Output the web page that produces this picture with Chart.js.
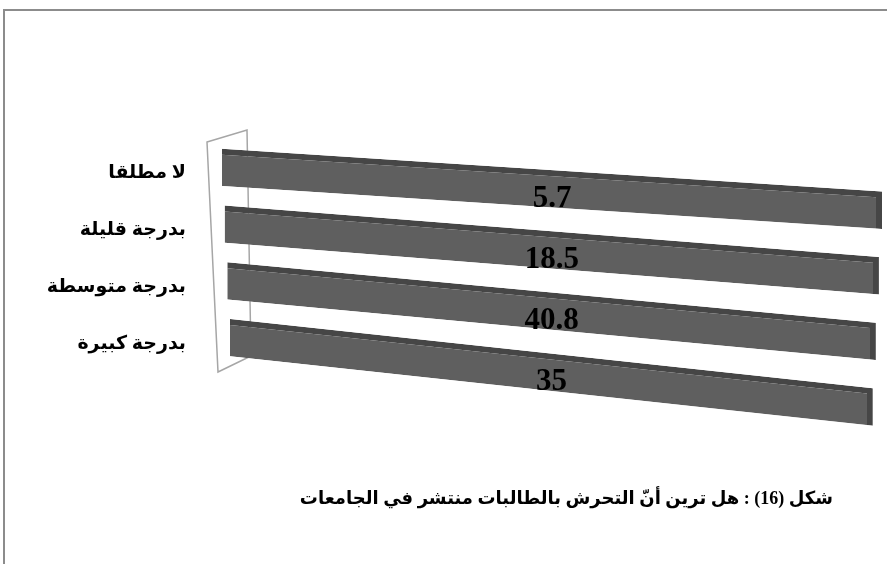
<!DOCTYPE html>
<html>
<head>
<meta charset="utf-8">
<script src="https://cdn.jsdelivr.net/npm/chart.js@4"></script>
<style>
  body { margin: 0; background: #fff; }
  #wrap { position: relative; width: 887px; height: 564px; overflow: hidden; }
  #frame { position: absolute; left: 3px; top: 9px; right: -4px; bottom: -4px;
           border-top: 2px solid #8c8c8c; border-left: 2px solid #8c8c8c; }
  canvas { position: absolute; left: 0; top: 0; }
</style>
</head>
<body>
<div id="wrap">
  <div id="frame"></div>
  <canvas id="chart" width="887" height="564" dir="rtl"></canvas>
</div>
<script>
// categories, top to bottom
const categories = ['لا مطلقا', 'بدرجة قليلة', 'بدرجة متوسطة', 'بدرجة كبيرة'];
// labelled values (%)
const percentValues = [5.7, 18.5, 40.8, 35];
const titleText = 'شكل (16) : هل ترين أنّ التحرش بالطالبات منتشر في الجامعات';

// the source is a 100% stacked bar with one series, so every bar fills the axis
const barShare = percentValues.map(v => (v / v) * 100);

const labelFont = '"Liberation Serif", "DejaVu Serif", serif';
// latin digits in serif, arabic falls back to DejaVu Sans
const arabicFont = '"Liberation Serif", "DejaVu Sans", sans-serif';

// per bar 3d look: slope, lean of the back wall and shortening
function barTransform(i, n) {
    const t = n > 1 ? i / (n - 1) : 0;
    return { slope: 0.065 + 0.04 * t, shiftX: 8 * t, squeeze: 1 - 0.026 * t };
}

const perspective = {
    id: 'perspective',
    beforeDatasetsDraw(chart) {
        // back wall behind the bars
        const ctx = chart.ctx, a = chart.chartArea;
        ctx.save();
        ctx.beginPath();
        ctx.moveTo(a.left - 15, a.top + 3);
        ctx.lineTo(a.left + 25, a.top - 9);
        ctx.lineTo(a.left + 29, a.bottom - 10);
        ctx.lineTo(a.left - 4, a.bottom + 6);
        ctx.closePath();
        ctx.strokeStyle = '#a6a6a6';
        ctx.lineWidth = 1.5;
        ctx.stroke();
        ctx.restore();
    },
    beforeDatasetDraw(chart, args) {
        const ctx = chart.ctx, a = chart.chartArea;
        const bars = args.meta.data;
        bars.forEach((bar, i) => {
            const p = barTransform(i, bars.length);
            ctx.save();
            ctx.translate(a.left + p.shiftX, 0);
            ctx.transform(p.squeeze, p.slope, 0, 1, 0, 0);
            ctx.translate(-a.left, 0);
            bar.draw(ctx, a);
            ctx.restore();
        });
        return false;
    },
    afterDatasetsDraw(chart) {
        const ctx = chart.ctx, a = chart.chartArea;
        const bars = chart.getDatasetMeta(0).data;
        const yScale = chart.scales.y;
        ctx.save();
        ctx.fillStyle = '#000';
        ctx.textBaseline = 'middle';
        // values on the bars
        ctx.direction = 'ltr';
        ctx.font = 'bold 31px ' + labelFont;
        ctx.textAlign = 'center';
        bars.forEach((bar, i) => {
            const p = barTransform(i, bars.length);
            const cx = (bar.x + bar.base) / 2;
            const x = a.left + p.shiftX + p.squeeze * (cx - a.left);
            const y = bar.y + p.slope * (cx - a.left) + 10;
            ctx.fillText(String(percentValues[i]), x, y);
        });
        // category names left of the wall
        ctx.direction = 'rtl';
        ctx.textAlign = 'right';
        ctx.font = 'bold 19px ' + arabicFont;
        categories.forEach((c, i) => {
            ctx.fillText(c, a.left - 36, yScale.getPixelForValue(i) + 6);
        });
        ctx.restore();
    },
    afterDraw(chart) {
        const ctx = chart.ctx;
        ctx.save();
        ctx.direction = 'rtl';
        ctx.textAlign = 'right';
        ctx.textBaseline = 'middle';
        ctx.fillStyle = '#000';
        ctx.font = 'bold 18px ' + arabicFont;
        ctx.fillText(titleText, 833, 499);
        ctx.restore();
    }
};

new Chart(document.getElementById('chart'), {
    type: 'bar',
    data: {
        labels: categories,
        datasets: [{
            data: barShare,
            backgroundColor: '#5f5f5f',
            borderColor: '#464646',
            borderWidth: { top: 6, right: 6, bottom: 0, left: 0 },
            borderSkipped: false,
            categoryPercentage: 1,
            barPercentage: 0.66
        }]
    },
    options: {
        indexAxis: 'y',
        responsive: false,
        animation: false,
        devicePixelRatio: 1,
        layout: { padding: { top: 139, bottom: 198, left: 222, right: 5 } },
        plugins: {
            legend: { display: false },
            tooltip: { enabled: false }
        },
        scales: {
            x: { display: false, min: 0, max: 100 },
            y: { display: false }
        }
    },
    plugins: [perspective]
});
</script>
</body>
</html>
